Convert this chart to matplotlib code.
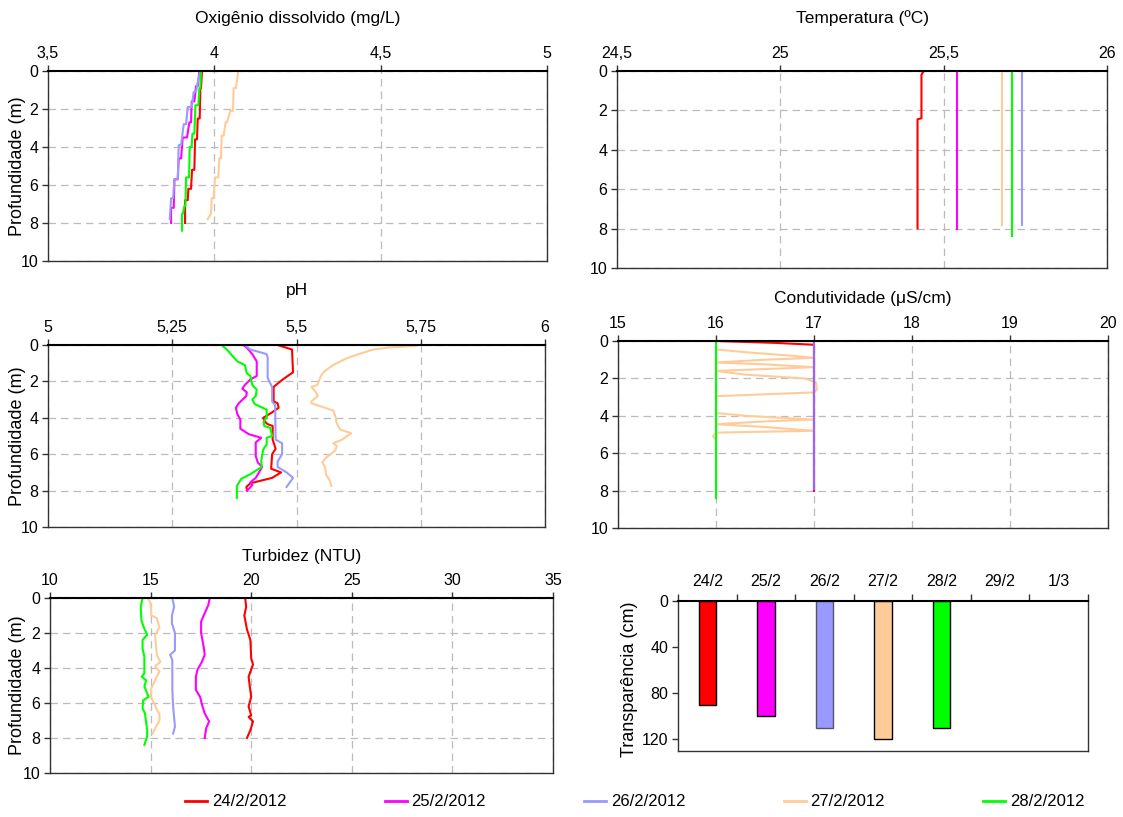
import matplotlib
matplotlib.use("Agg")
from matplotlib import pyplot as plt

plt.rcParams['font.family'] = ['Liberation Sans', 'DejaVu Sans']

W, H = 1123, 817

cores = ['#ff0000', '#ff00ff', '#9999ff', '#ffcc99', '#00ff00']
datas = ['24/2/2012', '25/2/2012', '26/2/2012', '27/2/2012', '28/2/2012']

# Oxigenio dissolvido (mg/L)
od_red_z = [0, 0.9, 0.9, 2.5, 2.5, 3.6, 3.6, 5.2, 5.2, 6.2, 6.2, 6.8, 6.8, 8.0]
od_red_v = [3.963, 3.960, 3.958, 3.956, 3.950, 3.948, 3.942, 3.940, 3.933, 3.930, 3.922, 3.920, 3.912, 3.912]
od_mag_z = [0, 0.8, 0.8, 1.6, 1.6, 2.7, 2.7, 3.5, 3.5, 4.6, 4.6, 5.7, 5.7, 7.2, 7.2, 8.0]
od_mag_v = [3.955, 3.950, 3.945, 3.940, 3.932, 3.930, 3.925, 3.918, 3.905, 3.900, 3.893, 3.890, 3.880, 3.878, 3.870, 3.870]
od_blu_z = [0, 0.6, 1.1, 1.1, 1.9, 1.9, 2.8, 2.8, 3.9, 3.9, 5.7, 5.7, 6.7, 6.7, 7.8]
od_blu_v = [3.958, 3.950, 3.945, 3.938, 3.932, 3.920, 3.915, 3.908, 3.900, 3.893, 3.890, 3.880, 3.876, 3.870, 3.866]
od_lar_z = [0, 0.9, 0.9, 2.1, 2.1, 2.7, 2.7, 3.4, 3.4, 4.6, 4.6, 5.6, 5.6, 6.7, 6.7, 7.5, 7.8]
od_lar_v = [4.072, 4.065, 4.058, 4.056, 4.048, 4.038, 4.034, 4.028, 4.022, 4.020, 4.015, 4.012, 4.002, 3.998, 3.992, 3.990, 3.980]
od_ver_z = [0, 0.9, 0.9, 1.8, 1.8, 3.3, 3.3, 4.0, 4.0, 5.6, 5.6, 7.1, 7.1, 7.5, 7.5, 8.4]
od_ver_v = [3.960, 3.958, 3.955, 3.952, 3.943, 3.940, 3.934, 3.932, 3.926, 3.924, 3.915, 3.913, 3.910, 3.906, 3.903, 3.903]

# Temperatura (oC)
tp_red_z = [0, 0.1, 0.2, 2.4, 2.45, 8.0]
tp_red_v = [25.44, 25.435, 25.432, 25.432, 25.42, 25.42]
tp_mag_z = [0, 8.0]
tp_mag_v = [25.54, 25.54]
tp_blu_z = [0, 7.8]
tp_blu_v = [25.74, 25.74]
tp_lar_z = [0, 7.8]
tp_lar_v = [25.68, 25.68]
tp_ver_z = [0, 8.4]
tp_ver_v = [25.71, 25.71]

# pH
ph_red_z = [0, 0.25, 1.5, 1.9, 2.3, 3.1, 3.2, 3.45, 3.7, 4.0, 4.2, 4.35, 4.45, 5.2, 5.7, 6.0, 6.8, 7.0, 7.3, 7.6, 7.8, 8.0]
ph_red_v = [5.462, 5.491, 5.493, 5.472, 5.454, 5.454, 5.462, 5.464, 5.451, 5.433, 5.436, 5.442, 5.452, 5.452, 5.458, 5.451, 5.449, 5.469, 5.451, 5.407, 5.399, 5.401]
ph_mag_z = [0, 0.15, 0.5, 0.9, 1.7, 1.9, 2.2, 2.4, 2.6, 2.8, 3.2, 3.45, 3.8, 4.1, 4.6, 4.9, 5.1, 5.35, 6.1, 6.45, 6.7, 7.3, 7.55, 7.7, 7.85, 8.0]
ph_mag_v = [5.393, 5.400, 5.411, 5.420, 5.420, 5.407, 5.396, 5.391, 5.400, 5.399, 5.384, 5.378, 5.381, 5.387, 5.387, 5.404, 5.429, 5.418, 5.418, 5.422, 5.431, 5.418, 5.407, 5.411, 5.406, 5.400]
ph_blu_z = [0, 0.25, 0.5, 0.7, 1.8, 2.1, 2.3, 3.1, 3.3, 5.2, 5.4, 6.0, 6.4, 6.7, 7.0, 7.3, 7.8]
ph_blu_v = [5.396, 5.407, 5.440, 5.442, 5.442, 5.447, 5.451, 5.451, 5.457, 5.458, 5.471, 5.471, 5.462, 5.462, 5.480, 5.493, 5.480]
ph_lar_z = [0.04, 0.15, 0.25, 0.5, 0.75, 1.1, 1.45, 1.7, 2.2, 2.3, 2.6, 2.8, 3.1, 3.2, 3.4, 3.6, 3.9, 4.3, 4.65, 4.85, 5.2, 5.4, 5.55, 5.8, 6.2, 6.45, 6.75, 7.1, 7.45, 7.75]
ph_lar_v = [5.741, 5.683, 5.654, 5.625, 5.599, 5.574, 5.556, 5.549, 5.542, 5.530, 5.539, 5.543, 5.530, 5.530, 5.552, 5.574, 5.578, 5.581, 5.588, 5.610, 5.592, 5.574, 5.581, 5.578, 5.559, 5.552, 5.558, 5.559, 5.567, 5.570]
ph_ver_z = [0, 0.25, 0.6, 0.9, 1.1, 1.55, 1.7, 2.2, 2.45, 2.8, 3.0, 3.25, 3.55, 4.0, 4.2, 4.45, 4.55, 5.0, 5.1, 5.45, 5.75, 6.35, 6.7, 7.1, 7.35, 7.75, 8.4]
ph_ver_v = [5.349, 5.360, 5.371, 5.381, 5.396, 5.400, 5.407, 5.411, 5.420, 5.418, 5.411, 5.416, 5.440, 5.440, 5.434, 5.435, 5.447, 5.451, 5.440, 5.440, 5.433, 5.429, 5.430, 5.407, 5.389, 5.380, 5.380]

# Condutividade (uS/cm)
cd_red_z = [0, 0.1, 0.2, 8.0]
cd_red_v = [16.0, 16.6, 17.0, 17.0]
cd_mag_z = [0, 8.0]
cd_mag_v = [17.0, 17.0]
cd_blu_z = [0, 7.9]
cd_blu_v = [17.0, 17.0]
cd_lar_z = [0.45, 0.6, 0.8, 0.9, 1.0, 1.15, 1.25, 1.4, 1.5, 1.6, 1.8, 2.0, 2.2, 2.6, 2.75, 2.85, 2.95, 3.85,
            4.0, 4.2, 4.3, 4.45, 4.6, 4.8, 4.85, 4.9, 5.1, 5.3, 7.8]
cd_lar_v = [16.0, 16.3, 16.8, 17.0, 16.5, 16.0, 16.5, 17.0, 16.5, 16.0, 16.3, 16.9, 17.02, 17.03, 17.0, 16.5, 16.0, 16.0,
            16.3, 17.0, 16.5, 16.0, 16.5, 17.0, 16.5, 16.0, 15.97, 16.0, 16.0]
cd_ver_z = [0, 8.4]
cd_ver_v = [16.0, 16.0]

# Turbidez (NTU)
tb_red_z = [0, 0.5, 1.0, 1.8, 2.4, 3.45, 3.8, 4.5, 5.05, 5.65, 6.2, 6.7, 6.8, 7.05, 7.55, 8.0]
tb_red_v = [19.70, 19.75, 19.66, 19.79, 19.96, 20.0, 20.09, 19.87, 19.93, 20.0, 19.87, 20.0, 19.87, 20.09, 19.96, 19.79]
tb_mag_z = [0, 0.4, 1.0, 1.35, 2.0, 2.8, 3.25, 3.65, 4.1, 4.5, 5.25, 5.65, 6.2, 6.6, 7.05, 7.45, 8.0]
tb_mag_v = [17.94, 17.87, 17.64, 17.51, 17.51, 17.64, 17.69, 17.55, 17.33, 17.25, 17.25, 17.46, 17.58, 17.69, 17.91, 17.76, 17.69]
tb_blu_z = [0, 0.5, 1.0, 1.45, 2.0, 3.0, 3.25, 3.55, 5.25, 6.2, 7.35, 7.75]
tb_blu_v = [16.08, 16.17, 16.06, 16.06, 16.21, 16.21, 15.97, 16.08, 16.08, 16.12, 16.21, 16.12]
tb_lar_z = [0, 0.3, 1.0, 1.15, 1.7, 2.1, 2.7, 3.25, 3.65, 3.9, 4.2, 4.7, 5.15, 5.65, 6.1, 6.4, 6.6, 7.0, 7.45, 7.75]
tb_lar_v = [14.87, 15.0, 15.04, 15.31, 15.44, 15.22, 15.27, 15.31, 15.49, 15.22, 15.44, 15.22, 15.04, 15.0, 15.22, 15.31, 15.44, 15.44, 15.22, 15.10]
tb_ver_z = [0, 0.5, 1.25, 1.65, 2.1, 2.4, 2.9, 3.35, 4.3, 4.5, 4.7, 5.05, 5.65, 5.85, 6.3, 6.6, 7.55, 7.9, 8.4]
tb_ver_v = [14.60, 14.51, 14.54, 14.65, 14.83, 14.60, 14.60, 14.69, 14.69, 14.56, 14.78, 14.69, 14.90, 14.63, 14.60, 14.72, 14.83, 14.83, 14.69]

# Transparencia (cm)
dias = ['24/2', '25/2', '26/2', '27/2', '28/2', '29/2', '1/3']
transparencia = [90, 100, 110, 120, 110]

fig = plt.figure(figsize=(W / 100, H / 100), dpi=100)


def px_axes(left, right, top, bottom):
    return fig.add_axes([left / W, 1 - bottom / H, (right - left) / W, (bottom - top) / H])


def rotulo_y(texto, x, top, bottom):
    fig.text(x / W, 1 - (top + bottom) / 2 / H, texto, rotation=90, ha='center', va='center', fontsize=13)


def estilo(ax):
    ax.tick_params(axis='both', labelsize=11.5, length=4, width=1, color='#333333', pad=3)
    for s in ['left', 'right', 'bottom']:
        ax.spines[s].set_color('#333333')
        ax.spines[s].set_linewidth(1.0)
    ax.spines['top'].set_color('black')
    ax.spines['top'].set_linewidth(1.5)


def perfil(box, titulo, title_y, xlim, xticks, xlabels, series, ylabel=True):
    ax = px_axes(*box)
    for (v, z), cor in zip(series, cores):
        ax.plot(v, z, color=cor, lw=1.5, solid_joinstyle='round')
    ax.set_xlim(xlim)
    ax.set_ylim(10, 0)
    ax.xaxis.tick_top()
    ax.set_xticks(xticks)
    ax.set_xticklabels(xlabels)
    ax.set_yticks([0, 2, 4, 6, 8, 10])
    ax.grid(True, color='#bbbbbb', ls=(0, (6, 4)), lw=0.9)
    ax.set_axisbelow(True)
    estilo(ax)
    if ylabel:
        rotulo_y('Profundidade (m)', 18, box[2], box[3])
    fig.text((box[0] + box[1]) / 2 / W, 1 - title_y / H, titulo, ha='center', va='center', fontsize=12.5)
    return ax


perfil((48, 547, 71, 261), 'Oxigênio dissolvido (mg/L)', 18, (3.5, 5), [3.5, 4, 4.5, 5], ['3,5', '4', '4,5', '5'],
       [(od_red_v, od_red_z), (od_mag_v, od_mag_z), (od_blu_v, od_blu_z), (od_lar_v, od_lar_z), (od_ver_v, od_ver_z)])

perfil((617, 1107, 71, 268), 'Temperatura (ºC)', 18, (24.5, 26), [24.5, 25, 25.5, 26], ['24,5', '25', '25,5', '26'],
       [(tp_red_v, tp_red_z), (tp_mag_v, tp_mag_z), (tp_blu_v, tp_blu_z), (tp_lar_v, tp_lar_z), (tp_ver_v, tp_ver_z)],
       ylabel=False)

perfil((48, 545, 345, 527), 'pH', 291, (5, 6), [5, 5.25, 5.5, 5.75, 6], ['5', '5,25', '5,5', '5,75', '6'],
       [(ph_red_v, ph_red_z), (ph_mag_v, ph_mag_z), (ph_blu_v, ph_blu_z), (ph_lar_v, ph_lar_z), (ph_ver_v, ph_ver_z)])

ax4 = px_axes(618, 1108, 341, 528)
# orange underneath, the others drawn on top
for (v, z), cor in [((cd_lar_v, cd_lar_z), cores[3]), ((cd_ver_v, cd_ver_z), cores[4]), ((cd_mag_v, cd_mag_z), cores[1]),
                    ((cd_red_v, cd_red_z), cores[0]), ((cd_blu_v, cd_blu_z), '#9966ee')]:
    ax4.plot(v, z, color=cor, lw=1.5)
ax4.set_xlim(15, 20)
ax4.set_ylim(10, 0)
ax4.xaxis.tick_top()
ax4.set_xticks([15, 16, 17, 18, 19, 20])
ax4.set_yticks([0, 2, 4, 6, 8, 10])
ax4.grid(True, color='#bbbbbb', ls=(0, (6, 4)), lw=0.9)
ax4.set_axisbelow(True)
estilo(ax4)
fig.text((618 + 1108) / 2 / W, 1 - 299 / H, 'Condutividade (μS/cm)', ha='center', va='center', fontsize=12.5)

perfil((50, 553, 598, 773), 'Turbidez (NTU)', 556, (10, 35), [10, 15, 20, 25, 30, 35], ['10', '15', '20', '25', '30', '35'],
       [(tb_red_v, tb_red_z), (tb_mag_v, tb_mag_z), (tb_blu_v, tb_blu_z), (tb_lar_v, tb_lar_z), (tb_ver_v, tb_ver_z)])

# Transparencia
ax6 = px_axes(678, 1088, 601, 751)
pos = list(range(len(dias)))
bordas = ['black', 'black', '#555566', 'black', 'black']
ax6.bar(pos[:len(transparencia)], transparencia, width=0.3, color=cores[:len(transparencia)], edgecolor=bordas, lw=1.0)
ax6.set_xlim(-0.5, len(dias) - 0.5)
ax6.set_ylim(130, 0)
ax6.xaxis.tick_top()
ax6.set_xticks([p + 0.5 for p in range(-1, len(dias))])
ax6.set_xticklabels([])
ax6.set_xticks(pos, minor=True)
ax6.set_xticklabels(dias, minor=True)
ax6.set_yticks([0, 40, 80, 120])
estilo(ax6)
ax6.tick_params(axis='x', which='minor', length=0, labelsize=11.5, pad=9)
ax6.tick_params(axis='x', which='major', length=5)
rotulo_y('Transparência (cm)', 630, 598, 760)

handles = [plt.Line2D([], [], color=c, lw=2) for c in cores]
fig.legend(handles, datas, loc='center', bbox_to_anchor=(635 / W, 1 - 802 / H), ncol=5, frameon=False,
           fontsize=12, handlelength=1.3, handletextpad=0.3, columnspacing=5.9)

fig.savefig('out.png', dpi=100)
